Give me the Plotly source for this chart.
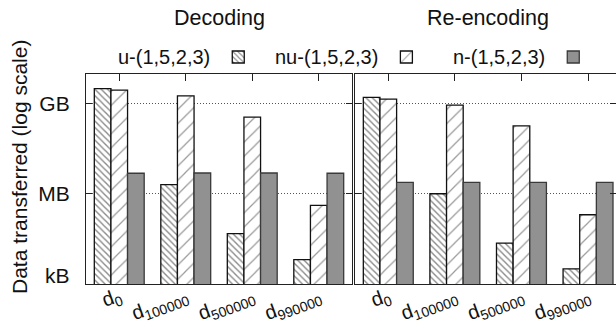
import plotly.graph_objects as go

# Dataset positions (x categories) and their labels
datasets = ["d0", "d100000", "d500000", "d990000"]
dataset_labels = ["d<sub>0</sub>", "d<sub>100000</sub>", "d<sub>500000</sub>", "d<sub>990000</sub>"]

# Schemes shown in each panel
schemes = ["u-(1,5,2,3)", "nu-(1,5,2,3)", "n-(1,5,2,3)"]

# Bytes transferred while decoding
decoding_u = [3.1e9, 2.0e6, 4.7e4, 6.5e3]
decoding_nu = [2.8e9, 1.8e9, 3.5e8, 4.1e5]
decoding_n = [4.8e6, 4.9e6, 4.9e6, 4.8e6]

# Bytes transferred while re-encoding
reencoding_u = [1.6e9, 1.0e6, 2.3e4, 3.2e3]
reencoding_nu = [1.4e9, 8.8e8, 1.8e8, 2.0e5]
reencoding_n = [2.4e6, 2.4e6, 2.4e6, 2.4e6]

# Y-axis ticks
size_ticks = [1e6, 1e9]
size_tick_labels = ["MB", "GB"]
bottom_tick, bottom_tick_label = 1e3, "kB"

FONT = "Liberation Sans, Arial, Helvetica, sans-serif"
W, H = 616, 326
FS_TITLE = 21.5
FS_TICK = 21
FS_LEG = 20
FS_X = 20

styles = [
    dict(color="white", pattern=dict(shape="\\", size=4.5, solidity=0.3, fgcolor="#111111", bgcolor="white")),
    dict(color="white", pattern=dict(shape="/", size=10, solidity=0.12, fgcolor="#333333", bgcolor="white")),
    dict(color="#919191", pattern=dict(shape="")),
]
line_colors = ["#111111", "#111111", "#3a3a3a"]

fig = go.Figure()

panels = [
    ("x", "y", [decoding_u, decoding_nu, decoding_n]),
    ("x2", "y2", [reencoding_u, reencoding_nu, reencoding_n]),
]
legend_ids = ["legend", "legend2", "legend3"]

for p, (xa, ya, values) in enumerate(panels):
    for i, (name, vals) in enumerate(zip(schemes, values)):
        st = styles[i]
        fig.add_trace(go.Bar(
            x=datasets, y=vals, xaxis=xa, yaxis=ya,
            name="", legend=legend_ids[i],
            showlegend=(p == 0),
            marker=dict(color=st["color"], pattern=st["pattern"],
                        line=dict(color=line_colors[i], width=1.3)),
            offsetgroup=str(i),
        ))

def px_x(v):
    return v / W

def px_y(v):
    return 1 - v / H

left_dom = [px_x(86), px_x(352)]
right_dom = [px_x(355), 1.0]
y_dom = [px_y(284), px_y(74)]

xcommon = dict(
    type="category", categoryorder="array", categoryarray=datasets,
    tickvals=datasets, ticktext=dataset_labels, tickangle=-20,
    ticks="inside", ticklen=7, tickcolor="#222222",
    showline=True, linecolor="#222222", linewidth=1.3, mirror="ticks",
    showgrid=False, tickfont=dict(family=FONT, size=FS_X, color="#111111"),
    ticklabelstandoff=-8,
    fixedrange=True, automargin=False, layer="below traces",
)
ycommon = dict(
    type="log", range=[3, 9.98], autorange=False, tickvals=size_ticks, ticktext=size_tick_labels,
    ticks="inside", ticklen=6, tickcolor="#222222",
    showline=True, linecolor="#222222", linewidth=1.3, mirror="ticks",
    showgrid=True, gridcolor="#555555", griddash="1px,2px", gridwidth=1,
    tickfont=dict(family=FONT, size=FS_TICK, color="#111111"),
    ticklabelstandoff=11,
    domain=y_dom, zeroline=False, automargin=False,
)

fig.update_layout(
    width=W, height=H,
    margin=dict(l=0, r=0, t=0, b=0, autoexpand=False),
    paper_bgcolor="white", plot_bgcolor="white",
    barmode="group", bargap=0.25, bargroupgap=0,
    font=dict(family=FONT, size=FS_LEG, color="#111111"),
    xaxis=dict(xcommon, domain=left_dom, anchor="y", range=[-0.5, 3.5]),
    xaxis2=dict(xcommon, domain=right_dom, anchor="y2", range=[-0.5, 3.42]),
    yaxis=dict(ycommon, anchor="x"),
    yaxis2=dict(ycommon, anchor="x2", showticklabels=False),
)

# one legend per scheme: label first, swatch after it
legend_x = [116, 273, 451]
for lid, name, lx in zip(legend_ids, schemes, legend_x):
    fig.update_layout({lid: dict(
        title=dict(text=name, side="left", font=dict(family=FONT, size=FS_LEG)),
        x=px_x(lx), y=px_y(57), xanchor="left", yanchor="middle",
        orientation="h", bgcolor="rgba(0,0,0,0)", borderwidth=0,
        font=dict(family=FONT, size=FS_LEG), itemwidth=30,
        tracegroupgap=0,
    )})

# bottom tick label sits just above the axis line
fig.add_annotation(text=bottom_tick_label, x=px_x(72), y=3, xref="paper", yref="y",
                   xanchor="right", yanchor="middle", yshift=9, showarrow=False,
                   font=dict(family=FONT, size=FS_TICK, color="#111111"))

fig.add_annotation(text="Decoding", x=px_x(219), y=px_y(18), xref="paper", yref="paper",
                   showarrow=False, font=dict(family=FONT, size=FS_TITLE), xanchor="center", yanchor="middle")
fig.add_annotation(text="Re-encoding", x=px_x(488), y=px_y(18), xref="paper", yref="paper",
                   showarrow=False, font=dict(family=FONT, size=FS_TITLE), xanchor="center", yanchor="middle")
fig.add_annotation(text="Data transferred (log scale)", x=px_x(19), y=px_y(167), xref="paper", yref="paper",
                   textangle=-90, showarrow=False, font=dict(family=FONT, size=FS_TICK),
                   xanchor="center", yanchor="middle")

fig.write_html("out.html")
